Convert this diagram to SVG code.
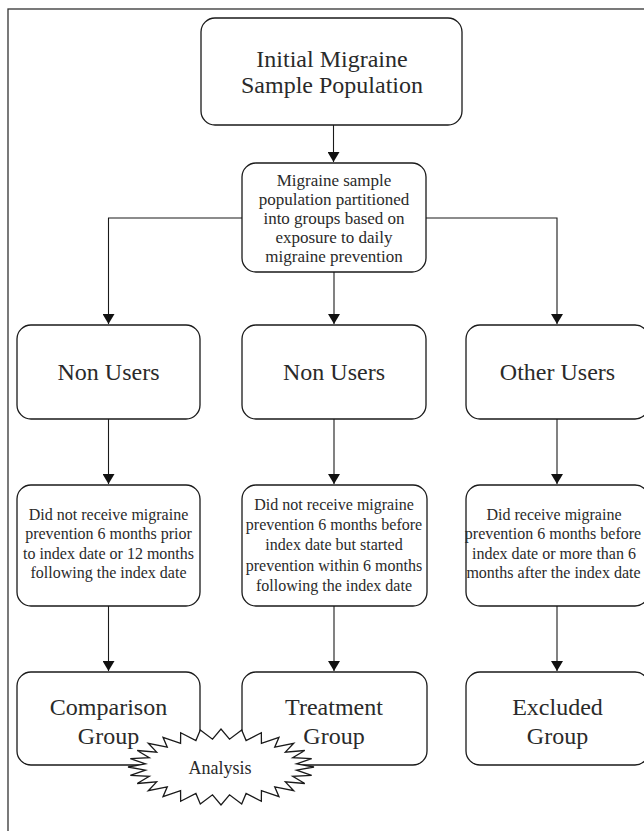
<svg xmlns="http://www.w3.org/2000/svg" width="644" height="831" viewBox="0 0 644 831">
<style>
.box{fill:#fff;stroke:#1a1a1a;stroke-width:1.3}
.lg{font-family:"Liberation Serif","Times New Roman",serif;font-size:24px;fill:#2a2a2a;text-anchor:middle}
.md{font-family:"Liberation Serif","Times New Roman",serif;font-size:17px;fill:#2a2a2a;text-anchor:middle}
.sm{font-family:"Liberation Serif","Times New Roman",serif;font-size:16px;fill:#2a2a2a;text-anchor:middle}
.con{fill:none;stroke:#1a1a1a;stroke-width:1.1}
</style>
<defs>
<marker id="arr" viewBox="0 0 10 12" refX="10" refY="6" markerWidth="10" markerHeight="12" orient="auto" markerUnits="userSpaceOnUse">
<path d="M0,0 L10,6 L0,12 z" fill="#111"/>
</marker>
</defs>
<rect x="8" y="9" width="700" height="900" fill="none" stroke="#333" stroke-width="1.3"/>

<g id="connectors">
<path class="con" d="M333.5,125 V162" marker-end="url(#arr)"/>
<path class="con" d="M242,218 H108.5 V324" marker-end="url(#arr)"/>
<path class="con" d="M426,218 H557 V324" marker-end="url(#arr)"/>
<path class="con" d="M334,272 V324" marker-end="url(#arr)"/>
<path class="con" d="M108.5,419 V484" marker-end="url(#arr)"/>
<path class="con" d="M334,419 V484" marker-end="url(#arr)"/>
<path class="con" d="M557,419 V484" marker-end="url(#arr)"/>
<path class="con" d="M108.5,606 V671" marker-end="url(#arr)"/>
<path class="con" d="M334,606 V671" marker-end="url(#arr)"/>
<path class="con" d="M557,606 V671" marker-end="url(#arr)"/>
</g>

<g id="initial">
<rect class="box" x="201" y="18" width="261" height="107" rx="14"/>
<text class="lg" x="332" y="67">Initial Migraine</text>
<text class="lg" x="332" y="93">Sample Population</text>
</g>

<g id="partition">
<rect class="box" x="242" y="163" width="184" height="109" rx="14"/>
<text class="md" x="334" y="186">Migraine sample</text>
<text class="md" x="334" y="205">population partitioned</text>
<text class="md" x="334" y="224">into groups based on</text>
<text class="md" x="334" y="243">exposure to daily</text>
<text class="md" x="334" y="262">migraine prevention</text>
</g>

<g id="nonusers1">
<rect class="box" x="17" y="325" width="183" height="94" rx="14"/>
<text class="lg" x="108.5" y="380">Non Users</text>
</g>
<g id="nonusers2">
<rect class="box" x="242" y="325" width="184" height="94" rx="14"/>
<text class="lg" x="334" y="380">Non Users</text>
</g>
<g id="otherusers">
<rect class="box" x="466" y="325" width="183" height="94" rx="14"/>
<text class="lg" x="557.5" y="380">Other Users</text>
</g>

<g id="desc1">
<rect class="box" x="17" y="485" width="183" height="121" rx="14"/>
<text class="sm" x="108.5" y="519.5">Did not receive migraine</text>
<text class="sm" x="108.5" y="539">prevention 6 months prior</text>
<text class="sm" x="108.5" y="558.5">to index date or 12 months</text>
<text class="sm" x="108.5" y="578">following the index date</text>
</g>
<g id="desc2">
<rect class="box" x="242" y="485" width="185" height="121" rx="14"/>
<text class="sm" x="334" y="509.5">Did not receive migraine</text>
<text class="sm" x="334" y="530">prevention 6 months before</text>
<text class="sm" x="334" y="550">index date but started</text>
<text class="sm" x="334" y="570.5">prevention within 6 months</text>
<text class="sm" x="334" y="591">following the index date</text>
</g>
<g id="desc3">
<rect class="box" x="466" y="485" width="183" height="121" rx="14"/>
<text class="sm" x="554" y="519.5">Did receive migraine</text>
<text class="sm" x="553" y="539">prevention 6 months before</text>
<text class="sm" x="554" y="558.5">index date or more than 6</text>
<text class="sm" x="553.5" y="578">months after the index date</text>
</g>

<g id="comparison">
<rect class="box" x="17" y="672" width="183" height="93" rx="14"/>
<text class="lg" x="108.5" y="715">Comparison</text>
<text class="lg" x="108.5" y="744">Group</text>
</g>
<g id="treatment">
<rect class="box" x="242" y="672" width="185" height="93" rx="14"/>
<text class="lg" x="334" y="715">Treatment</text>
<text class="lg" x="334" y="744">Group</text>
</g>
<g id="excluded">
<rect class="box" x="466" y="672" width="183" height="93" rx="14"/>
<text class="lg" x="557.5" y="715">Excluded</text>
<text class="lg" x="557.5" y="744">Group</text>
</g>

<g id="analysis">
<polygon fill="#fff" stroke="#1a1a1a" stroke-width="1.3" stroke-linejoin="miter" points="314,767 296.52,763.87 311.67,758.54 292.73,757.75 304.79,750.51 285.35,752.10 293.71,743.31 274.74,747.20 278.98,737.29 261.43,743.29 261.35,732.76 246.10,740.57 241.69,729.95 229.51,739.18 221,729 212.49,739.18 200.31,729.95 195.90,740.57 180.65,732.76 180.57,743.29 163.02,737.29 167.26,747.20 148.29,743.31 156.65,752.10 137.21,750.51 149.27,757.75 130.33,758.54 145.48,763.87 128,767 145.48,770.13 130.33,775.46 149.27,776.25 137.21,783.49 156.65,781.90 148.29,790.69 167.26,786.80 163.02,796.71 180.57,790.71 180.65,801.24 195.90,793.43 200.31,804.05 212.49,794.82 221,805 229.51,794.82 241.69,804.05 246.10,793.43 261.35,801.24 261.43,790.71 278.98,796.71 274.74,786.80 293.71,790.69 285.35,781.90 304.79,783.49 292.73,776.25 311.67,775.46 296.52,770.13"/>
<text class="md" x="220" y="774" style="font-size:18px">Analysis</text>
</g>
</svg>
